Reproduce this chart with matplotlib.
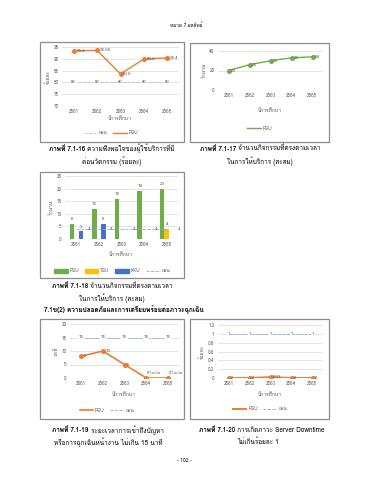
import matplotlib
matplotlib.use('Agg')
from matplotlib import pyplot as plt
from matplotlib import font_manager
from matplotlib.ft2font import FT2Font
from matplotlib.lines import Line2D
from matplotlib.patches import Patch, Rectangle

W, H = 370, 480

years = ['2561', '2562', '2563', '2564', '2565']

# 7.1-16 satisfaction with innovation (%)
satisfaction_psu = [93.4, 93.55, 83.6, 89.9, 90.4]
satisfaction_plan = [80, 80, 80, 80, 80]

# 7.1-17 on-time activities (cumulative)
ontime_psu = [20, 26, 30, 33, 34]

# 7.1-18 activities per university
activity_psu = [6, 12, 16, 19, 20]
activity_tsu = [0, 0, 0, 0, 4]
activity_kku = [3, 6, 0, 0, 0]
activity_plan = [4, 4, 4, 4, 4]

# 7.1-19 emergency response time
response_psu = [8, 10, 5, 0, 0]
response_labels = ['8', '10', '5', '0/ไม่เกิด', '0/ไม่เกิด']
response_plan = [15, 15, 15, 15, 15]

# 7.1-20 server downtime
downtime_psu = [0, 0, 0.02, 0, 0]
downtime_labels = ['0', '0', '0.02', '0', '0']
downtime_plan = [1, 1, 1, 1, 1]

ORANGE = '#ED7D31'
GREEN = '#70AD47'
YELLOW = '#FFC000'
BLUE = '#4472C4'
PLAN = '#8FAADC'
TICK = '#595959'
CAP = 4.6


def find_thai_family():
    seen = set()
    for f in font_manager.fontManager.ttflist:
        if f.fname in seen:
            continue
        seen.add(f.fname)
        try:
            if ord('ก') in FT2Font(f.fname).get_charmap():
                return f.name
        except Exception:
            pass
    return None


thai = find_thai_family()
families = ['DejaVu Sans']
if thai:
    families = [thai, 'DejaVu Sans']
plt.rcParams['font.family'] = families


def px_axes(fig, x0, y0, x1, y1):
    return fig.add_axes([x0 / W, 1 - y1 / H, (x1 - x0) / W, (y1 - y0) / H])


def px_text(fig, x, y, s, **kw):
    return fig.text(x / W, 1 - y / H, s, **kw)


def frame(fig, x0, y0, x1, y1):
    fig.patches.append(Rectangle((x0 / W, 1 - y1 / H), (x1 - x0) / W, (y1 - y0) / H,
                                 transform=fig.transFigure, fill=False,
                                 edgecolor='#8c8c8c', linewidth=0.9))


def style_axes(ax, ylim, yticks, ylabel):
    ax.set_xlim(-0.5, 4.5)
    ax.set_ylim(*ylim)
    ax.set_yticks(yticks)
    ax.set_xticks(range(5))
    ax.set_xticklabels(years)
    ax.grid(True, axis='y', color='#d9d9d9', linewidth=0.5)
    ax.set_axisbelow(True)
    for s in ax.spines.values():
        s.set_visible(False)
    ax.tick_params(length=0, labelsize=3.3, colors=TICK, pad=2.5)
    ax.set_ylabel(ylabel, fontsize=3.6, color=TICK, labelpad=2)


def legend(fig, x, y, handles, labels):
    fig.legend(handles, labels, loc='center', bbox_to_anchor=(x / W, 1 - y / H),
               ncol=len(handles), frameon=False, fontsize=3.3, handlelength=3,
               columnspacing=1.2, handletextpad=0.4, labelcolor=TICK)


def point_labels(ax, xs, ys, texts, dx=3, dy=0, color=TICK, center=False, size=3.2):
    for x, y, t in zip(xs, ys, texts):
        if center:
            ax.annotate(t, (x, y), ha='center', va='center', fontsize=size, color=color,
                        bbox=dict(fc='white', ec='none', pad=0.4))
        else:
            ax.annotate(t, (x, y), xytext=(dx, dy), textcoords='offset points',
                        ha='left', va='center', fontsize=size, color=color)


def caption(fig, x, y, bold, rest, size=CAP):
    r = fig.canvas.get_renderer()
    t1 = px_text(fig, 0, y, bold, fontsize=size, fontweight='bold', va='center')
    t2 = px_text(fig, 0, y, rest, fontsize=size, va='center')
    w1 = t1.get_window_extent(r).width
    w2 = t2.get_window_extent(r).width
    start = x - (w1 + w2) / 2
    t1.set_x(start / W)
    t2.set_x((start + w1) / W)


fig = plt.figure(figsize=(W / 100, H / 100), dpi=100)
xs = list(range(5))

# ---- 7.1-16
frame(fig, 40, 42, 184, 142)
ax = px_axes(fig, 62, 47, 179, 106)
style_axes(ax, (70, 95), [70, 75, 80, 85, 90, 95], 'ร้อยละ')
ax.plot(xs, satisfaction_plan, color='#bfbfbf', linestyle='--', linewidth=0.6)
ax.plot(xs, satisfaction_psu, color=ORANGE, linewidth=1.0, marker='o', markersize=2.6)
point_labels(ax, xs, satisfaction_plan, [str(v) for v in satisfaction_plan], center=True)
point_labels(ax, xs, satisfaction_psu, [str(v) for v in satisfaction_psu], dx=2)
px_text(fig, 120, 119, 'ปีการศึกษา', fontsize=3.6, color=TICK, ha='center', va='center')
legend(fig, 111, 133,
       [Line2D([], [], color='#bfbfbf', linestyle='--', linewidth=0.6),
        Line2D([], [], color=ORANGE, linewidth=1.0)],
       ['แผน', 'PSU'])

# ---- 7.1-17
frame(fig, 190, 43, 329, 142)
ax = px_axes(fig, 218, 51, 323, 90)
style_axes(ax, (0, 40), [0, 20, 40], 'จำนวน')
ax.plot(xs, ontime_psu, color=GREEN, linewidth=1.0, marker='o', markersize=2.6)
point_labels(ax, xs, ontime_psu, [str(v) for v in ontime_psu], dx=2)
px_text(fig, 270, 110, 'ปีการศึกษา', fontsize=3.6, color=TICK, ha='center', va='center')
legend(fig, 260, 128, [Line2D([], [], color=GREEN, linewidth=1.0)], ['PSU'])

# ---- 7.1-18
frame(fig, 40, 172, 184, 278)
ax = px_axes(fig, 65, 176, 178, 239)
style_axes(ax, (0, 25), [0, 5, 10, 15, 20, 25], 'จำนวน')
bw = 0.2
groups = [(activity_psu, -bw, GREEN), (activity_tsu, 0, YELLOW), (activity_kku, bw, BLUE)]
for vals, off, col in groups:
    ax.bar([x + off for x in xs], vals, width=bw, color=col)
    for x, v in zip(xs, vals):
        if v > 0:
            ax.annotate(str(v), (x + off, v), xytext=(0, 2), textcoords='offset points',
                        ha='center', va='bottom', fontsize=3.2, color=TICK)
ax.plot(xs, activity_plan, color=PLAN, linestyle='--', linewidth=0.6)
point_labels(ax, xs, activity_plan, [str(v) for v in activity_plan], dx=8)
px_text(fig, 121, 255, 'ปีการศึกษา', fontsize=3.6, color=TICK, ha='center', va='center')
legend(fig, 112, 271,
       [Patch(color=GREEN), Patch(color=YELLOW), Patch(color=BLUE),
        Line2D([], [], color=PLAN, linestyle='--', linewidth=0.6)],
       ['PSU', 'TSU', 'KKU', 'แผน'])

# ---- 7.1-19
frame(fig, 40, 319, 184, 419)
ax = px_axes(fig, 70, 324, 179, 378)
style_axes(ax, (0, 20), [0, 5, 10, 15, 20], 'นาที')
ax.plot(xs, response_plan, color=PLAN, linestyle='--', linewidth=0.6)
ax.plot(xs, response_psu, color=ORANGE, linewidth=1.2, marker='o', markersize=2.6)
point_labels(ax, xs, response_plan, [str(v) for v in response_plan], center=True)
point_labels(ax, xs[:3], response_psu[:3], response_labels[:3], dx=2)
point_labels(ax, xs[3:], response_psu[3:], response_labels[3:], dx=0.5, dy=3.5, size=2.9)
px_text(fig, 124, 394, 'ปีการศึกษา', fontsize=3.6, color=TICK, ha='center', va='center')
legend(fig, 107, 410,
       [Line2D([], [], color=ORANGE, linewidth=1.2),
        Line2D([], [], color=PLAN, linestyle='--', linewidth=0.6)],
       ['PSU', 'แผน'])

# ---- 7.1-20
frame(fig, 190, 319, 329, 419)
ax = px_axes(fig, 218, 325, 323, 378)
style_axes(ax, (0, 1.2), [0, 0.2, 0.4, 0.6, 0.8, 1, 1.2], 'ร้อยละ')
ax.set_yticklabels(['0', '0.2', '0.4', '0.6', '0.8', '1', '1.2'])
ax.plot(xs, downtime_plan, color=PLAN, linestyle='--', linewidth=0.6)
ax.plot(xs, downtime_psu, color=ORANGE, linewidth=1.4, marker='o', markersize=2.6)
point_labels(ax, xs, downtime_plan, [str(v) for v in downtime_plan], center=True)
point_labels(ax, xs, downtime_psu, downtime_labels, dx=2)
px_text(fig, 270, 395, 'ปีการศึกษา', fontsize=3.6, color=TICK, ha='center', va='center')
legend(fig, 260, 409,
       [Line2D([], [], color=ORANGE, linewidth=1.4),
        Line2D([], [], color=PLAN, linestyle='--', linewidth=0.6)],
       ['PSU', 'แผน'])

# ---- page text
px_text(fig, 186, 25, 'หมวด 7 ผลลัพธ์', fontsize=3.4, ha='center', va='center')
caption(fig, 112, 149, 'ภาพที่ 7.1-16', ' ความพึงพอใจของผู้ใช้บริการที่มี')
px_text(fig, 112, 161, 'ต่อนวัตกรรม (ร้อยละ)', fontsize=CAP, ha='center', va='center')
caption(fig, 260, 149, 'ภาพที่ 7.1-17', ' จำนวนกิจกรรมที่ตรงตามเวลา')
px_text(fig, 260, 161, 'ในการให้บริการ (สะสม)', fontsize=CAP, ha='center', va='center')
caption(fig, 112, 286, 'ภาพที่ 7.1-18', ' จำนวนกิจกรรมที่ตรงตามเวลา')
px_text(fig, 112, 298, 'ในการให้บริการ (สะสม)', fontsize=CAP, ha='center', va='center')
px_text(fig, 44, 310, '7.1ข(2) ความปลอดภัยและการเตรียมพร้อมต่อภาวะฉุกเฉิน',
        fontsize=CAP, fontweight='bold', ha='left', va='center')
caption(fig, 108, 430, 'ภาพที่ 7.1-19', ' ระยะเวลาการเข้าถึงปัญหา')
px_text(fig, 108, 442, 'หรือการฉุกเฉินหน้างาน ไม่เกิน 15 นาที', fontsize=CAP, ha='center', va='center')
caption(fig, 262, 430, 'ภาพที่ 7.1-20', ' การเกิดภาวะ Server Downtime')
px_text(fig, 258, 442, 'ไม่เกินร้อยละ 1', fontsize=CAP, ha='center', va='center')
px_text(fig, 184, 461, '- 102 -', fontsize=3.6, ha='center', va='center')

fig.savefig('out.png', dpi=100, facecolor='white')
